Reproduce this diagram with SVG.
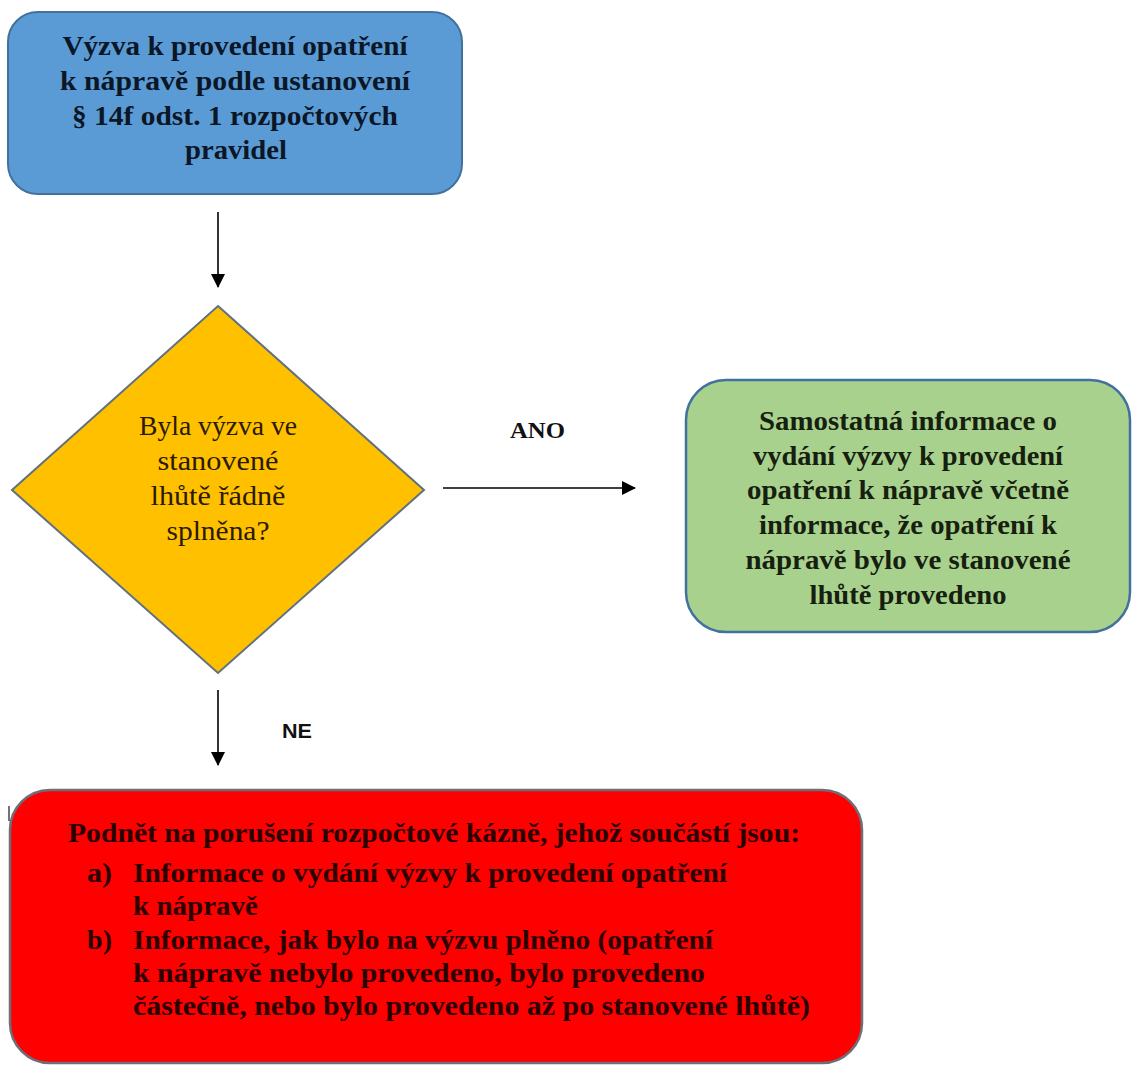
<svg xmlns="http://www.w3.org/2000/svg" width="1132" height="1068" viewBox="0 0 1132 1068">
  <defs>
    <marker id="arrow" viewBox="0 0 14 14" refX="13" refY="7" markerWidth="14" markerHeight="14" markerUnits="userSpaceOnUse" orient="auto">
      <path d="M0,0 L14,7 L0,14 Z" fill="#000"/>
    </marker>
    <style>
      .box-blue { fill: #5B9BD5; stroke: #41719C; stroke-width: 2; }
      .box-green { fill: #A9D18E; stroke: #41719C; stroke-width: 2.5; }
      .box-red { fill: #FF0000; stroke: #6E6E78; stroke-width: 2.5; }
      .diamond { fill: #FFC000; stroke: #5F7080; stroke-width: 2; }
      .conn { stroke: #000; stroke-width: 1.6; fill: none; marker-end: url(#arrow); }
      .t-bold { font-family: "Liberation Serif", "DejaVu Serif", serif; font-weight: bold; font-size: 27px; text-anchor: middle; }
      .t-reg { font-family: "Liberation Serif", "DejaVu Serif", serif; font-size: 27px; text-anchor: middle; fill: #2a1a00; }
      .t-red { font-family: "Liberation Serif", "DejaVu Serif", serif; font-weight: bold; font-size: 28px; fill: #2b0000; }
      .lbl-serif { font-family: "Liberation Serif", "DejaVu Serif", serif; font-weight: bold; font-size: 23px; fill: #111; }
      .lbl-sans { font-family: "Liberation Sans", Arial, sans-serif; font-weight: bold; font-size: 20px; fill: #111; }
    </style>
  </defs>

  <rect width="1132" height="1068" fill="#fff"/>

  <g id="connectors">
    <line class="conn" x1="218" y1="212" x2="218" y2="287"/>
    <line class="conn" x1="443" y1="488" x2="635" y2="488"/>
    <line class="conn" x1="218" y1="690" x2="218" y2="765"/>
    <text id="lbl-ano" class="lbl-serif" x="510" y="438" textLength="55" lengthAdjust="spacingAndGlyphs">ANO</text>
    <text id="lbl-ne" class="lbl-sans" x="282" y="738" textLength="30" lengthAdjust="spacingAndGlyphs">NE</text>
  </g>

  <g id="node-start">
    <rect class="box-blue" x="8" y="12" width="454" height="182" rx="30" ry="30"/>
    <g class="t-bold" fill="#0b1626">
      <text x="235" y="55" textLength="345" lengthAdjust="spacingAndGlyphs">Výzva k provedení opatření</text>
      <text x="235" y="90" textLength="350" lengthAdjust="spacingAndGlyphs">k nápravě podle ustanovení</text>
      <text x="235" y="125" textLength="326" lengthAdjust="spacingAndGlyphs">§ 14f odst. 1 rozpočtových</text>
      <text x="236" y="159" textLength="102" lengthAdjust="spacingAndGlyphs">pravidel</text>
    </g>
  </g>

  <g id="node-decision">
    <polygon class="diamond" points="218,306 424,490 218,673 12,490"/>
    <text class="t-reg" x="218" y="435" textLength="158" lengthAdjust="spacingAndGlyphs">Byla výzva ve</text>
    <text class="t-reg" x="218" y="470" textLength="121" lengthAdjust="spacingAndGlyphs">stanovené</text>
    <text class="t-reg" x="218" y="505" textLength="135" lengthAdjust="spacingAndGlyphs">lhůtě řádně</text>
    <text class="t-reg" x="218" y="540" textLength="103" lengthAdjust="spacingAndGlyphs">splněna?</text>
  </g>

  <g id="node-yes">
    <rect class="box-green" x="686" y="380" width="444" height="252" rx="40" ry="40"/>
    <g class="t-bold" fill="#16200f">
      <text x="908" y="430" textLength="298" lengthAdjust="spacingAndGlyphs">Samostatná informace o</text>
      <text x="908" y="465" textLength="310" lengthAdjust="spacingAndGlyphs">vydání výzvy k provedení</text>
      <text x="908" y="499" textLength="322" lengthAdjust="spacingAndGlyphs">opatření k nápravě včetně</text>
      <text x="908" y="534" textLength="298" lengthAdjust="spacingAndGlyphs">informace, že opatření k</text>
      <text x="908" y="569" textLength="325" lengthAdjust="spacingAndGlyphs">nápravě bylo ve stanovené</text>
      <text x="908" y="604" textLength="197" lengthAdjust="spacingAndGlyphs">lhůtě provedeno</text>
    </g>
  </g>

  <g id="node-no">
    <line x1="9" y1="806" x2="9" y2="821" stroke="#444" stroke-width="1.5"/>
    <rect class="box-red" x="10" y="790" width="852" height="273" rx="40" ry="40"/>
    <text class="t-red" x="68" y="842" textLength="732" lengthAdjust="spacingAndGlyphs">Podnět na porušení rozpočtové kázně, jehož součástí jsou:</text>
    <text class="t-red" x="87" y="882" textLength="25" lengthAdjust="spacingAndGlyphs">a)</text>
    <text class="t-red" x="133" y="882" textLength="594" lengthAdjust="spacingAndGlyphs">Informace o vydání výzvy k provedení opatření</text>
    <text class="t-red" x="133" y="915" textLength="125" lengthAdjust="spacingAndGlyphs">k nápravě</text>
    <text class="t-red" x="87" y="949" textLength="25" lengthAdjust="spacingAndGlyphs">b)</text>
    <text class="t-red" x="133" y="949" textLength="580" lengthAdjust="spacingAndGlyphs">Informace, jak bylo na výzvu plněno (opatření</text>
    <text class="t-red" x="133" y="982" textLength="572" lengthAdjust="spacingAndGlyphs">k nápravě nebylo provedeno, bylo provedeno</text>
    <text class="t-red" x="133" y="1015" textLength="677" lengthAdjust="spacingAndGlyphs">částečně, nebo bylo provedeno až po stanovené lhůtě)</text>
  </g>
</svg>
